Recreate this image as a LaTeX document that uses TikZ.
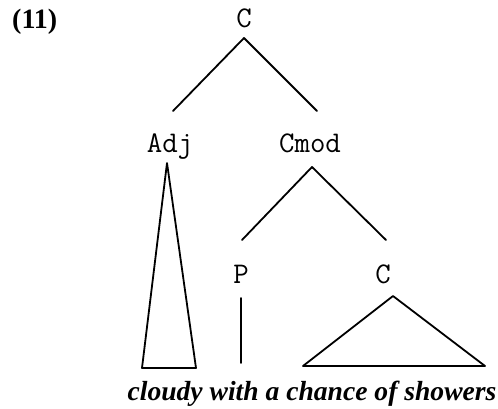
\documentclass[tikz,border=0pt]{standalone}
\usepackage{fontspec}
\setmainfont{Liberation Serif}
\usetikzlibrary{calc}
\tikzset{
  cat/.style={font=\ttfamily\fontsize{30}{34}\selectfont, inner sep=0pt, anchor=base},
  words/.style={font=\bfseries\itshape\fontsize{27.6}{32}\selectfont, inner sep=0pt, anchor=base},
  exno/.style={font=\bfseries\fontsize{28}{32}\selectfont, inner sep=0pt, anchor=base west},
  branch/.style={line width=1.8pt, line cap=round, line join=round}
}
\begin{document}
\begin{tikzpicture}[x=1pt,y=-1pt]
  \useasboundingbox[fill=white] (0,0) rectangle (498,409);
  \node[exno] (ex) at (12,29) {(11)};
  % categories
  \node[cat] (root) at (244,28) {C};
  \node[cat] (adj)  at (170,153) {Adj};
  \node[cat] (cmod) at (310,153) {Cmod};
  \node[cat] (p)    at (241,283) {P};
  \node[cat] (c)    at (383,283) {C};
  \node[words] (str) at (312,400) {cloudy with a chance of showers};
  % branches
  \draw[branch] ($(root.base)+(0,10)$) -- ($(adj.base)+(3,-42)$);
  \draw[branch] ($(root.base)+(0,10)$) -- ($(cmod.base)+(7,-42)$);
  \draw[branch] ($(cmod.base)+(2,14)$) -- ($(p.base)+(1,-43)$);
  \draw[branch] ($(cmod.base)+(2,14)$) -- ($(c.base)+(3,-43)$);
  \draw[branch] ($(p.base)+(0,15)$) -- ($(p.base)+(0,80)$);
  % roofs
  \draw[branch] ($(adj.base)+(-3,10)$) -- ($(adj.base)+(-28,215)$) -- ($(adj.base)+(26,215)$) -- cycle;
  \draw[branch] ($(c.base)+(10,13)$) -- ($(c.base)+(-80,83)$) -- ($(c.base)+(102,83)$) -- cycle;
\end{tikzpicture}
\end{document}
